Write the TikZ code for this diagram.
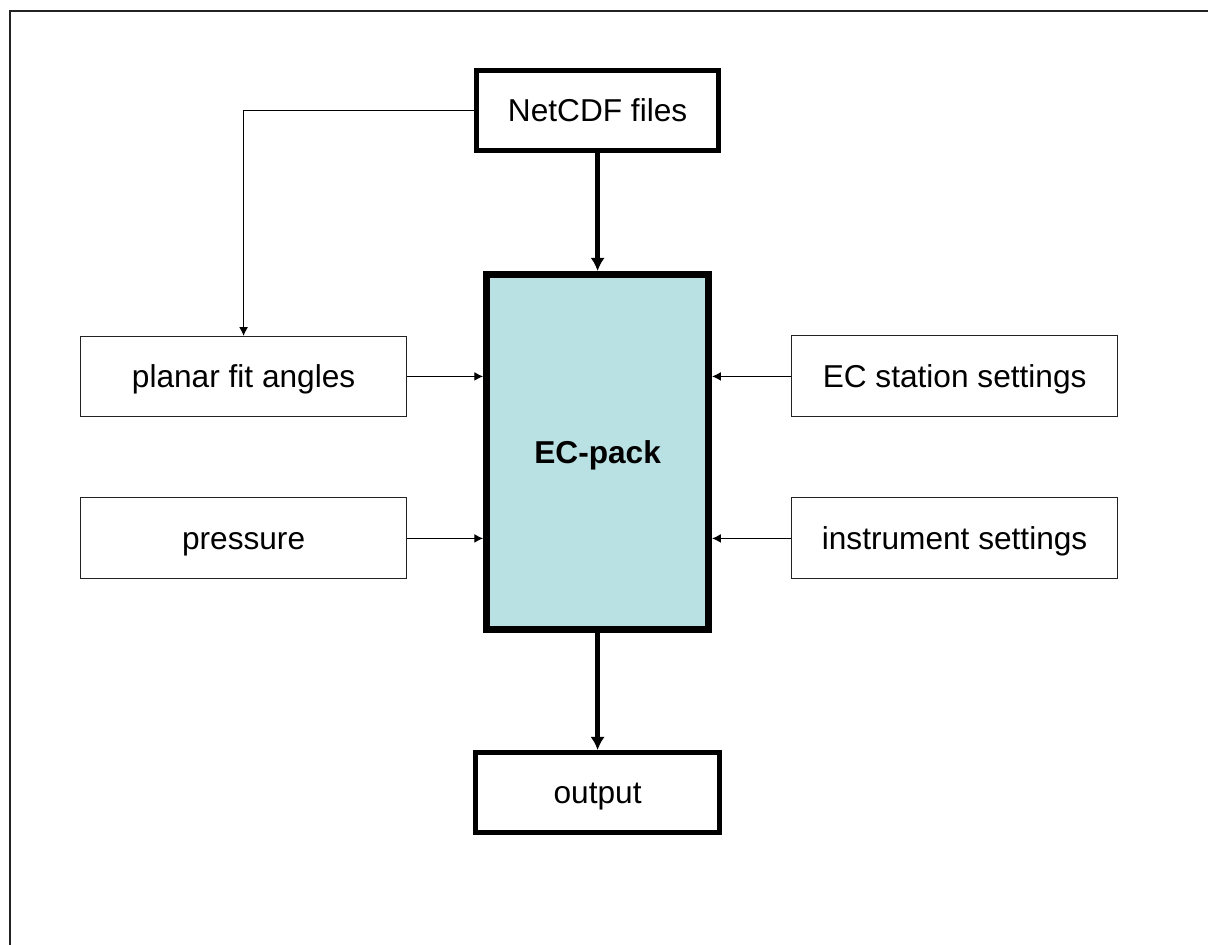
\documentclass[tikz,border=0pt]{standalone}
\usepackage{fontspec}
\setmainfont{Liberation Sans}
\usetikzlibrary{arrows.meta,positioning}
\definecolor{paleteal}{HTML}{B9E0E3}
\definecolor{framegray}{HTML}{222222}

\begin{document}
\begin{tikzpicture}[
    node distance=2.95cm and 1.9cm,
    every node/.style={font=\fontsize{22.5}{27}\selectfont, text height=16.1pt, text depth=0pt},
    io/.style={draw, line width=3.5pt, minimum width=6.05cm, minimum height=2cm, align=center, fill=white},
    core/.style={draw, line width=5pt, fill=paleteal, minimum width=5.55cm, minimum height=8.875cm, font=\fontsize{22.5}{27}\selectfont\bfseries},
    param/.style={draw=framegray, line width=0.7pt, minimum width=8.15cm, minimum height=2.025cm, align=center},
    arrow/.style={-{Latex[length=2.2mm,width=2.2mm]}, line width=0.7pt},
    mainarrow/.style={-{Latex[length=3.3mm,width=3.6mm]}, line width=3.2pt}
]
\useasboundingbox (0,0) rectangle (30.2,-23.6);
\draw[framegray, line width=1.3pt] (31,-0.275) -- (0.25,-0.275) -- (0.25,-24.5);

\node[core] (ecpack) at (14.94,-11.3) {EC-pack};
\node[io, above=of ecpack] (netcdf) {NetCDF files};
\node[io, below=2.925cm of ecpack, minimum width=6.1cm] (output) {output};
\node[param, left=of ecpack, yshift=1.89cm, minimum height=2cm] (planar) {planar fit angles};
\node[param, left=of ecpack, yshift=-2.16cm] (pressure) {pressure};
\node[param, right=1.975cm of ecpack, yshift=1.89cm] (station) {EC station settings};
\node[param, right=1.975cm of ecpack, yshift=-2.16cm] (instrument) {instrument settings};

\draw[mainarrow] (netcdf.south) -- (ecpack.north);
\draw[mainarrow] (ecpack.south) -- (output.north);
\draw[arrow] (netcdf.west) -| (planar.north);
\draw[arrow] (planar.east) -- (planar.east -| ecpack.west);
\draw[arrow] (pressure.east) -- (pressure.east -| ecpack.west);
\draw[arrow] (station.west) -- (station.west -| ecpack.east);
\draw[arrow] (instrument.west) -- (instrument.west -| ecpack.east);
\end{tikzpicture}
\end{document}
